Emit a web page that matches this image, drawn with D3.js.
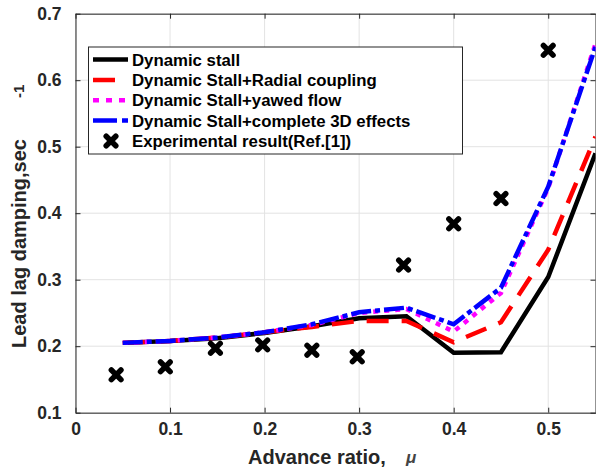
<!DOCTYPE html>
<html>
<head>
<meta charset="utf-8">
<script src="https://cdn.jsdelivr.net/npm/d3@7"></script>
<style>
  html, body { margin: 0; padding: 0; background: #fff; }
  svg { display: block; }
  text { font-family: "Liberation Sans", Arial, Helvetica, sans-serif; font-weight: bold; }
</style>
</head>
<body>
<svg id="chart" width="596" height="470"></svg>
<script>
// Advance ratio at which each model was evaluated
const advanceRatio = [0.05, 0.10, 0.15, 0.20, 0.25, 0.30, 0.35, 0.40, 0.45, 0.50, 0.55];

// Lead-lag damping (1/sec) predicted by each aerodynamic model
const dynamicStall   = [0.205, 0.208, 0.212, 0.220, 0.230, 0.242, 0.245, 0.190, 0.191, 0.304, 0.490];
const radialCoupling = [0.205, 0.208, 0.213, 0.221, 0.229, 0.238, 0.238, 0.206, 0.236, 0.345, 0.515];
const yawedFlow      = [0.205, 0.208, 0.213, 0.221, 0.232, 0.250, 0.256, 0.222, 0.280, 0.438, 0.655];
const complete3D     = [0.205, 0.208, 0.213, 0.221, 0.233, 0.251, 0.258, 0.233, 0.288, 0.440, 0.650];

// Measured damping
const expAdvanceRatio = [0.043, 0.095, 0.148, 0.198, 0.250, 0.298, 0.347, 0.400, 0.450, 0.500];
const expDamping      = [0.157, 0.169, 0.197, 0.202, 0.194, 0.184, 0.322, 0.384, 0.422, 0.645];

// Axis ticks
const xTicks = [0, 0.1, 0.2, 0.3, 0.4, 0.5];
const yTicks = [0.1, 0.2, 0.3, 0.4, 0.5, 0.6, 0.7];

const seriesNames = [
  "Dynamic stall",
  "Dynamic Stall+Radial coupling",
  "Dynamic Stall+yawed flow",
  "Dynamic Stall+complete 3D effects",
  "Experimental result(Ref.[1])"
];

const svg = d3.select("#chart");
const plot = { left: 75.5, right: 595.5, top: 13.7, bottom: 412.7 };
const axisColor = "#262626";

const x = d3.scaleLinear().domain([0, 0.55]).range([plot.left, plot.right]);
const y = d3.scaleLinear().domain([0.1, 0.7]).range([plot.bottom, plot.top]);

// Grid
const grid = svg.append("g").attr("stroke", "#e3e3e3").attr("stroke-width", 1);
xTicks.forEach(t => grid.append("line")
  .attr("x1", x(t)).attr("x2", x(t)).attr("y1", plot.top).attr("y2", plot.bottom));
yTicks.forEach(t => grid.append("line")
  .attr("x1", plot.left).attr("x2", plot.right).attr("y1", y(t)).attr("y2", y(t)));

// Axes with inward ticks
const tickLen = 5;
const xAxis = svg.append("g").attr("transform", `translate(0,${plot.bottom})`)
  .call(d3.axisBottom(x).tickValues(xTicks).tickSizeInner(-tickLen).tickSizeOuter(0)
    .tickFormat(d => d === 0 ? "0" : d3.format(".1f")(d)).tickPadding(10));
const yAxis = svg.append("g").attr("transform", `translate(${plot.left},0)`)
  .call(d3.axisLeft(y).tickValues(yTicks).tickSizeInner(-tickLen).tickSizeOuter(0)
    .tickFormat(d3.format(".1f")).tickPadding(14));
const xAxisTop = svg.append("g").attr("transform", `translate(0,${plot.top})`)
  .call(d3.axisTop(x).tickValues(xTicks).tickSizeInner(-tickLen).tickSizeOuter(0).tickFormat(""));
const yAxisRight = svg.append("g").attr("transform", `translate(${plot.right},0)`)
  .call(d3.axisRight(y).tickValues(yTicks).tickSizeInner(-tickLen).tickSizeOuter(0).tickFormat(""));

[xAxis, yAxis, xAxisTop, yAxisRight].forEach(g => {
  g.select(".domain").attr("stroke", axisColor).attr("stroke-width", 1);
  g.selectAll(".tick line").attr("stroke", axisColor);
  g.selectAll(".tick text").attr("fill", axisColor).attr("font-size", 17.5)
    .attr("font-family", "'Liberation Sans', Arial, sans-serif").attr("font-weight", "bold");
});

// Clip path for the data
svg.append("clipPath").attr("id", "plotClip").append("rect")
  .attr("x", plot.left).attr("y", plot.top)
  .attr("width", plot.right - plot.left).attr("height", plot.bottom - plot.top);

const lineGen = d3.line().x(d => x(d[0])).y(d => y(d[1]));
const lineStyles = [
  { values: dynamicStall,   color: "#000000", dash: null },
  { values: radialCoupling, color: "#ff0000", dash: "22,13" },
  { values: yawedFlow,      color: "#ff00ff", dash: "5,6" },
  { values: complete3D,     color: "#0000ff", dash: "20,4,5,4" }
];

const lines = svg.append("g").attr("clip-path", "url(#plotClip)");
lineStyles.forEach(s => {
  lines.append("path")
    .datum(advanceRatio.map((m, i) => [m, s.values[i]]))
    .attr("d", lineGen)
    .attr("fill", "none")
    .attr("stroke", s.color)
    .attr("stroke-width", 4.5)
    .attr("stroke-linejoin", "miter")
    .attr("stroke-dasharray", s.dash);
});

// Experimental points as bold crosses
function cross(g, cx, cy, r) {
  g.append("path")
    .attr("d", `M${cx - r},${cy - r}L${cx + r},${cy + r}M${cx - r},${cy + r}L${cx + r},${cy - r}`)
    .attr("stroke", "#000").attr("stroke-width", 5.5).attr("stroke-linecap", "round").attr("fill", "none");
}
const pts = svg.append("g");
expAdvanceRatio.forEach((m, i) => cross(pts, x(m), y(expDamping[i]), 4.8));

// Legend
const legend = svg.append("g");
legend.append("rect")
  .attr("x", 88.5).attr("y", 47).attr("width", 374).attr("height", 107)
  .attr("fill", "#fff").attr("stroke", axisColor).attr("stroke-width", 1);
const rowY = [59.5, 80, 100.3, 120.6, 141];
lineStyles.forEach((s, i) => {
  legend.append("line")
    .attr("x1", 93).attr("x2", 128).attr("y1", rowY[i]).attr("y2", rowY[i])
    .attr("stroke", s.color).attr("stroke-width", 4.5)
    .attr("stroke-dasharray", i === 1 ? "22,20" : i === 2 ? "6,7" : i === 3 ? "24,5,6,5" : null);
});
cross(legend, 111, rowY[4], 4.8);
seriesNames.forEach((name, i) => {
  legend.append("text")
    .attr("x", 132).attr("y", rowY[i] + 6)
    .attr("font-size", 16.8).attr("fill", "#000")
    .text(name);
});

// Axis titles
svg.append("text")
  .attr("x", 248).attr("y", 463.5)
  .attr("font-size", 20).attr("fill", axisColor)
  .text("Advance ratio,");
svg.append("text")
  .attr("x", 406).attr("y", 463)
  .attr("font-size", 17).attr("fill", "#444")
  .attr("font-family", "'DejaVu Serif', 'Liberation Serif', serif")
  .attr("font-style", "italic").attr("font-weight", "normal")
  .text("μ");

svg.append("text")
  .attr("transform", "translate(25.5,243.5) rotate(-90)")
  .attr("text-anchor", "middle")
  .attr("font-size", 20).attr("fill", axisColor)
  .text("Lead lag damping,sec");
svg.append("text")
  .attr("transform", "translate(24,98) rotate(-90)")
  .attr("font-size", 15).attr("fill", axisColor)
  .text("-1");
</script>
</body>
</html>
